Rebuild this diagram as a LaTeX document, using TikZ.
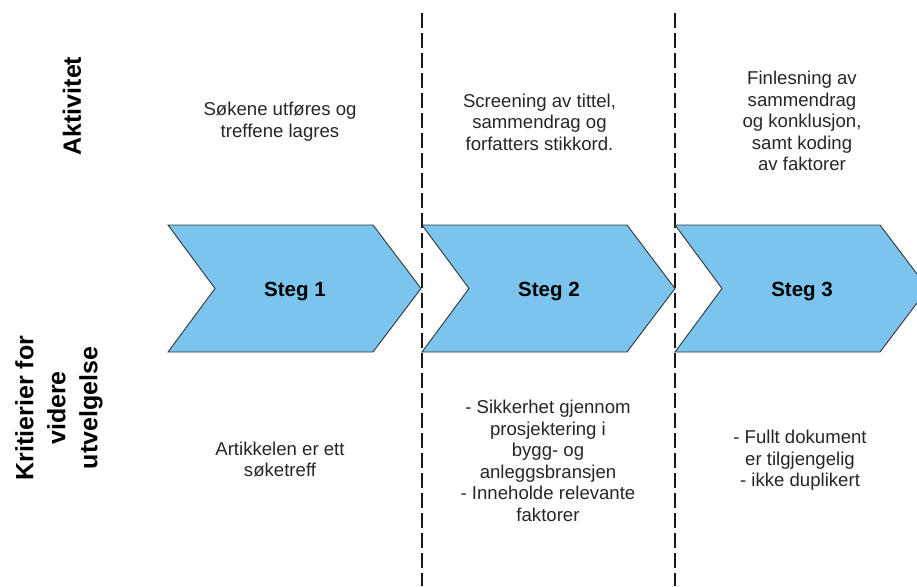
\documentclass[tikz,border=0pt]{standalone}
\usepackage{fontspec}
\setmainfont{Liberation Sans}
\usetikzlibrary{positioning}
\definecolor{pilblaa}{RGB}{123,196,237}
\tikzstyle{pil} = [fill=pilblaa, draw=black!80, line width=0.9pt, line join=miter]
\tikzstyle{stegtekst} = [font=\fontsize{20.5}{24}\selectfont\bfseries, inner sep=0pt]
\tikzstyle{tekst} = [align=center, font=\fontsize{18.6}{21.5}\selectfont, inner sep=0pt, text=black!85]
\tikzstyle{overskrift} = [align=center, rotate=90, font=\fontsize{25}{32}\selectfont\bfseries, inner sep=0pt]
\tikzstyle{skille} = [draw=black!90, line width=1.1pt, dash pattern=on 15pt off 5pt]
\newcommand{\stegpil}[3]{ %
  % One arrow-shaped step from x = #1, label node #2 with text #3.
  \draw[pil] (#1,225) -- ++(205,0) -- ++(48,63.5) -- ++(-48,63.5)
    -- ++(-205,0) -- ++(47,-63.5) -- cycle;
  \node[stegtekst] (#2) at (#1+127,291.5) {#3};
}

\begin{document}
\begin{tikzpicture}[x=1pt, y=-1pt]
  \useasboundingbox (0,0) rectangle (917,586);
  \clip (0,0) rectangle (917,586);

  % dividers between the steps
  \foreach \x/\n in {422/a, 675/b} {
    \coordinate (top\n) at (\x,13);
    \coordinate (bunn\n) at (\x,586);
    \draw[skille] (top\n) -- (bunn\n);
  }

  % the three steps
  \stegpil{168}{s1}{Steg 1}
  \stegpil{422}{s2}{Steg 2}
  \stegpil{675}{s3}{Steg 3}

  % row headings
  \node[overskrift] (akt) at (72,106) {Aktivitet};
  \node[overskrift] (krit) at (59,408) {Kritierier for\\videre\\utvelgelse};

  % activities
  \node[tekst] (a1) at (280,121.5) {Søkene utføres og\\treffene lagres};
  \node[tekst] (a2) at (539.5,122) {Screening av tittel,\\sammendrag og\\forfatters stikkord.};
  \node[tekst] (a3) at (802,121) {Finlesning av\\sammendrag\\og konklusjon,\\samt koding\\av faktorer};

  % criteria
  \node[tekst] (k1) at (280,459.5) {Artikkelen er ett\\søketreff};
  \node[tekst] (k2) at (548,461) {- Sikkerhet gjennom\\prosjektering i\\bygg- og\\anleggsbransjen\\- Inneholde relevante\\faktorer};
  \node[tekst] (k3) at (800,460.5) {- Fullt dokument\\er tilgjengelig\\- ikke duplikert};
\end{tikzpicture}
\end{document}
